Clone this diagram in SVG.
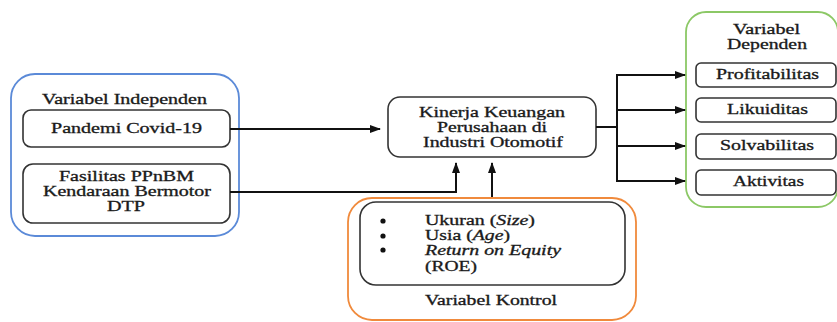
<svg xmlns="http://www.w3.org/2000/svg" width="837" height="322" viewBox="0 0 837 322">
<defs>
<marker id="ah" markerUnits="userSpaceOnUse" markerWidth="11" markerHeight="8" refX="10" refY="4" orient="auto">
<path d="M0,0 L11,4 L0,8 z" fill="#111"/>
</marker>
<style>
text{font-family:"Liberation Serif","Times New Roman",serif;font-size:13.6px;fill:#1a1a1a;stroke:#1a1a1a;stroke-width:0.3;}
.box{fill:#fff;stroke:#333;stroke-width:1.6;}
.con{fill:none;stroke:#111;stroke-width:2;}
.it{font-style:italic;}
</style>
</defs>
<rect width="837" height="322" fill="#fff"/>
<g id="independen">
<rect x="11" y="74" width="228" height="162" rx="24" fill="#fff" stroke="#5b8ad8" stroke-width="1.8"/>
<text x="42" y="104" textLength="165" lengthAdjust="spacingAndGlyphs">Variabel Independen</text>
</g>
<g id="pandemi">
<rect class="box" x="23" y="110" width="207" height="37" rx="8"/>
<text x="51" y="133" textLength="151" lengthAdjust="spacingAndGlyphs">Pandemi Covid-19</text>
</g>
<g id="fasilitas">
<rect class="box" x="23" y="164" width="207" height="59" rx="10"/>
<text x="59" y="181" textLength="135" lengthAdjust="spacingAndGlyphs">Fasilitas PPnBM</text>
<text x="43" y="196" textLength="168" lengthAdjust="spacingAndGlyphs">Kendaraan Bermotor</text>
<text x="107" y="211" textLength="38" lengthAdjust="spacingAndGlyphs">DTP</text>
</g>
<g id="kinerja">
<rect class="box" x="388" y="97" width="208" height="60" rx="12"/>
<text x="419" y="117" textLength="146" lengthAdjust="spacingAndGlyphs">Kinerja Keuangan</text>
<text x="437" y="132" textLength="110" lengthAdjust="spacingAndGlyphs">Perusahaan di</text>
<text x="423" y="147" textLength="140" lengthAdjust="spacingAndGlyphs">Industri Otomotif</text>
</g>
<g id="kontrol">
<rect x="348" y="198" width="288" height="122" rx="24" fill="#fff" stroke="#f08a3c" stroke-width="1.8"/>
<rect class="box" x="360" y="202" width="265" height="83" rx="16"/>
<circle cx="383" cy="221" r="2.6" fill="#111"/>
<circle cx="383" cy="236" r="2.6" fill="#111"/>
<circle cx="383" cy="250" r="2.6" fill="#111"/>
<text x="425" y="225" textLength="110" lengthAdjust="spacingAndGlyphs">Ukuran (<tspan class="it">Size</tspan>)</text>
<text x="425" y="240" textLength="85" lengthAdjust="spacingAndGlyphs">Usia (<tspan class="it">Age</tspan>)</text>
<text class="it" x="425" y="255" textLength="136" lengthAdjust="spacingAndGlyphs">Return on Equity</text>
<text x="425" y="271" textLength="52" lengthAdjust="spacingAndGlyphs">(ROE)</text>
<text x="425" y="305" textLength="132" lengthAdjust="spacingAndGlyphs">Variabel Kontrol</text>
</g>
<g id="dependen">
<rect x="686" y="12" width="152" height="195" rx="20" fill="#fff" stroke="#8cc866" stroke-width="1.8"/>
<text x="733" y="34" textLength="67" lengthAdjust="spacingAndGlyphs">Variabel</text>
<text x="727" y="49" textLength="80" lengthAdjust="spacingAndGlyphs">Dependen</text>
</g>
<g id="profitabilitas">
<rect class="box" x="696" y="63" width="140" height="24" rx="5"/>
<text x="716" y="79" textLength="103" lengthAdjust="spacingAndGlyphs">Profitabilitas</text>
</g>
<g id="likuiditas">
<rect class="box" x="696" y="98" width="140" height="24" rx="5"/>
<text x="727" y="114" textLength="81" lengthAdjust="spacingAndGlyphs">Likuiditas</text>
</g>
<g id="solvabilitas">
<rect class="box" x="696" y="134" width="140" height="25" rx="5"/>
<text x="720" y="150" textLength="94" lengthAdjust="spacingAndGlyphs">Solvabilitas</text>
</g>
<g id="aktivitas">
<rect class="box" x="696" y="170" width="140" height="25" rx="5"/>
<text x="733" y="186" textLength="71" lengthAdjust="spacingAndGlyphs">Aktivitas</text>
</g>
<g id="connectors">
<path class="con" d="M230 129 H380" marker-end="url(#ah)"/>
<path class="con" d="M230 192 H456 V163" marker-end="url(#ah)"/>
<path class="con" d="M492 197 V163" marker-end="url(#ah)"/>
<path class="con" d="M596 127 H617"/>
<path class="con" d="M617 74 V182"/>
<path class="con" d="M616 75 H685" marker-end="url(#ah)"/>
<path class="con" d="M617 110 H685" marker-end="url(#ah)"/>
<path class="con" d="M617 146 H685" marker-end="url(#ah)"/>
<path class="con" d="M616 181 H685" marker-end="url(#ah)"/>
</g>
</svg>
